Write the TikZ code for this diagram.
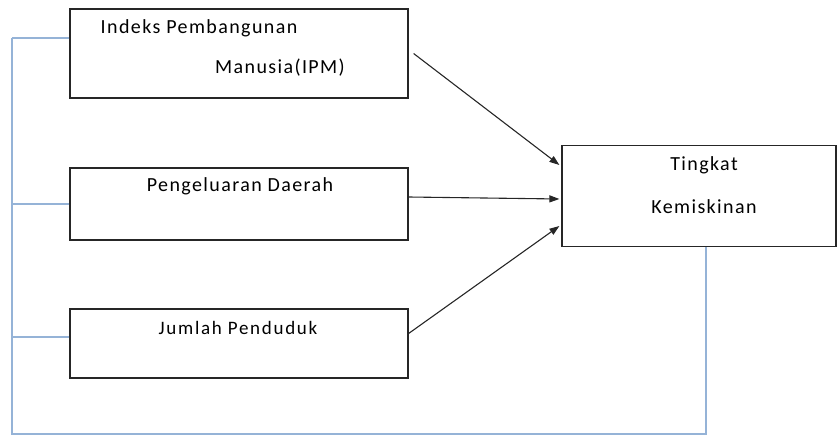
\documentclass[tikz,border=0pt]{standalone}
\usepackage{fontspec}
\setmainfont{Carlito}[LetterSpace=7]
\usepackage{xcolor}
\usetikzlibrary{positioning,arrows.meta}
\definecolor{linkblue}{HTML}{95B3D7}

\begin{document}
\begin{tikzpicture}[x=1pt, y=-1pt, box/.style={draw=black!85, line width=1.2pt, minimum width=338pt, inner sep=0pt}, lbl/.style={font=\fontsize{20}{23}\selectfont, inner sep=0pt}, link/.style={draw=linkblue, line width=1.3pt}, flow/.style={draw=black!85, line width=1.1pt, -{Triangle[length=10pt, width=7pt]}}]
\useasboundingbox (0,0) rectangle (838,436);
\node[box, minimum height=89pt] (ipm) at (239,53.5) {};
\node[box, minimum height=72pt] (belanja) at (239,204) {};
\node[box, minimum height=69pt] (penduduk) at (239,343.5) {};
\node[box, minimum width=274pt, minimum height=101pt] (miskin) at (699,196) {};
\node[lbl] (ipmA) at (199,28) {Indeks Pembangunan};
\node[lbl] (ipmB) at (280,68) {Manusia(IPM)};
\node[lbl] (belanjaA) at (240,186) {Pengeluaran Daerah};
\node[lbl, font=\fontsize{19}{22}\selectfont\addfontfeatures{LetterSpace=9}] (pendudukA) at (238,328) {Jumlah Penduduk};
\node[lbl] (miskinA) at (704,165) {Tingkat};
\node[lbl] (miskinB) at (704,207) {Kemiskinan};
% blue frame round the boxes
\coordinate (top) at (12,38);
\coordinate (corner) at (12,434);
\coordinate (foot) at (706,434);
\draw[link] (top) -- (corner) -- (foot) -- (foot |- miskin.south);
\foreach \b/\y in {ipm/15.5, belanja/0, penduduk/6.5} { \path ([yshift=\y pt]\b.west) coordinate (tap); \draw[link] (tap) -- (top |- tap); }
% arrows to the poverty box
\draw[flow] ([xshift=5pt]ipm.east) -- ([xshift=-2pt, yshift=31pt]miskin.west);
\draw[flow] ([yshift=7pt]belanja.east) -- ([xshift=-2pt, yshift=-3pt]miskin.west);
\draw[flow] ([yshift=10pt]penduduk.east) -- ([xshift=-2pt, yshift=-30pt]miskin.west);
\end{tikzpicture}
\end{document}
